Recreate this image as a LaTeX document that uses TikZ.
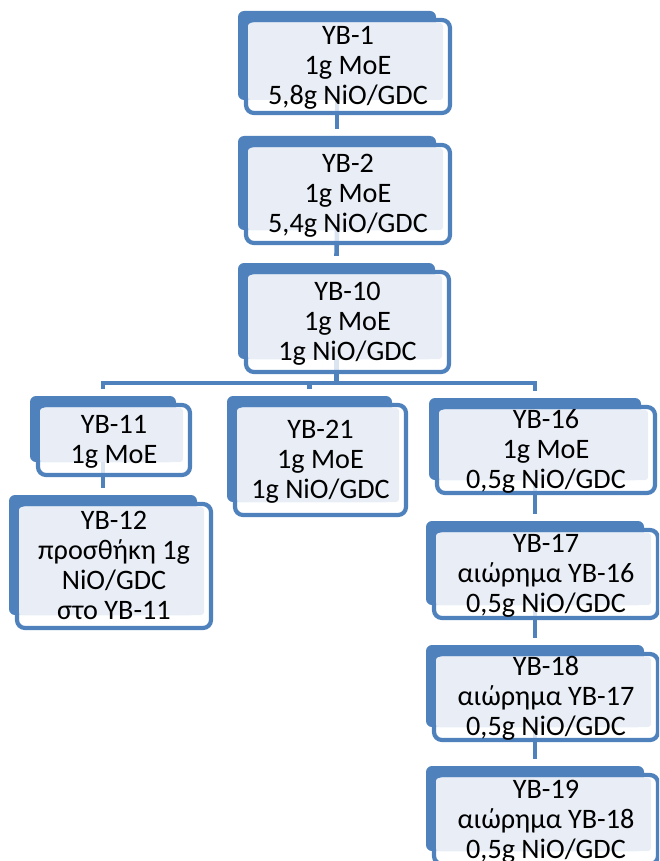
\documentclass[tikz,border=0pt]{standalone}
\usepackage{fontspec}
\setmainfont{Carlito}
\usetikzlibrary{fit,calc}
\definecolor{ybblue}{HTML}{4F81BD}
\definecolor{yblight}{HTML}{E9EEF6}
\pgfdeclarelayer{bg}
\pgfsetlayers{bg,main}
\tikzset{
  backbox/.style={fill=ybblue, rounded corners=6pt, inner sep=0pt, draw=none},
  frontbox/.style={draw=ybblue, line width=4.2pt, fill=white, fill opacity=0.8, draw opacity=1, rounded corners=8pt, inner sep=0pt},
  lightbox/.style={fill=yblight, rounded corners=3pt, inner sep=0pt, draw=none},
  txt/.style={align=center, inner sep=0pt, font=\fontsize{28.2pt}{30pt}\selectfont, text=black},
  conn/.style={draw=ybblue, line width=4.6pt},
}
\newcommand\ybbox[7]{%
  \node[backbox, fit={({#2-6},{#3-7}) ({#4-16},{#5-15})}] (#1b) {};
  \node[frontbox, fit={({#2+2},{#3+2}) ({#4-2},{#5-2})}] (#1) {};
  \node[lightbox, fit={({#2+4},{#3+5}) ({#4-9},{#5-15})}] (#1l) {};
  \node[txt, anchor=base] (#1t) at ({(#2+#4)/2},{(#3+#5)/2+8.5+(#6-1)*15}) {#7};
}
\begin{document}
\begin{tikzpicture}[x=1pt,y=-1pt]
\useasboundingbox (0,0) rectangle (659,861);
\clip (0,0) rectangle (659,861);
\ybbox{yb1}{244}{18}{452}{115}{3}{YB-1\\1g MoE\\5,8g NiO/GDC}
\ybbox{yb2}{244}{143}{452}{245}{3}{YB-2\\1g MoE\\5,4g NiO/GDC}
\ybbox{yb10}{244}{270}{451}{374}{3}{YB-10\\1g MoE\\1g NiO/GDC}
\ybbox{yb11}{36}{403}{192}{477}{2}{YB-11\\1g MoE}
\ybbox{yb12}{15}{502}{213}{630}{4}{YB-12\\προσθήκη 1g\\NiO/GDC\\στο YB-11}
\ybbox{yb21}{233}{403}{408}{517}{3}{YB-21\\1g MoE\\1g NiO/GDC}
\ybbox{yb16}{435}{405}{657}{495}{3}{YB-16\\1g MoE\\0,5g NiO/GDC}
\ybbox{yb17}{432}{528}{660}{620}{3}{YB-17\\αιώρημα YB-16\\0,5g NiO/GDC}
\ybbox{yb18}{432}{652}{660}{742}{3}{YB-18\\αιώρημα YB-17\\0,5g NiO/GDC}
\ybbox{yb19}{432}{773}{660}{866}{3}{YB-19\\αιώρημα YB-18\\0,5g NiO/GDC}
\coordinate (bar) at (0,383);
\begin{pgfonlayer}{bg}
  \draw[conn] (yb1b.south) -- ($(yb2b.north)+(0,-7)$);
  \draw[conn] (yb2b.south) -- ($(yb10b.north)+(0,-7)$);
  \draw[conn] (yb10b.south) -- (yb10b.south |- bar);
  \draw[conn] ($(yb11b.north)+(0,-7)$) -- (yb11b.north |- bar) -- (yb16b.north |- bar) -- ($(yb16b.north)+(0,-7)$);
  \draw[conn] (yb21b.north |- bar) -- ($(yb21b.north)+(0,-7)$);
  \draw[conn] (yb11b.south) -- ($(yb12b.north)+(0,-7)$);
  \draw[conn] (yb16b.south) -- ($(yb17b.north)+(0,-7)$);
  \draw[conn] (yb17b.south) -- ($(yb18b.north)+(0,-7)$);
  \draw[conn] (yb18b.south) -- ($(yb19b.north)+(0,-7)$);
\end{pgfonlayer}
\end{tikzpicture}
\end{document}
